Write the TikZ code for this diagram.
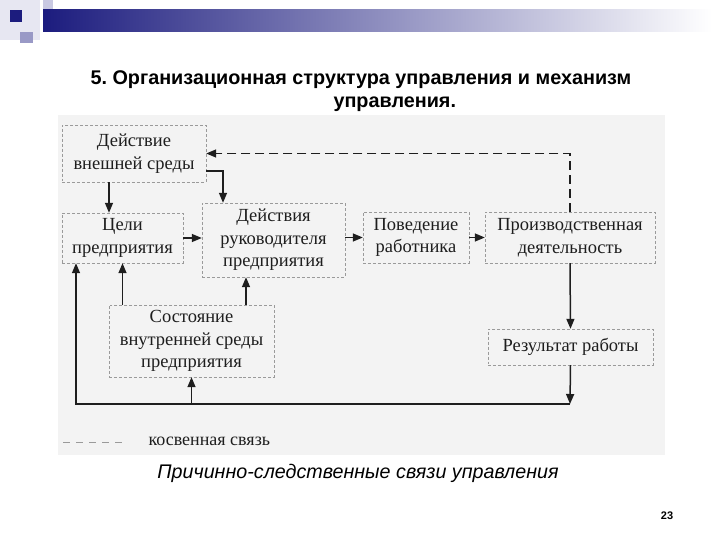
\documentclass[tikz,border=0pt]{standalone}
\usepackage{fontspec}
\setmainfont{Liberation Serif}
\newfontfamily\headfont{Liberation Sans}
\usetikzlibrary{arrows.meta,positioning,calc}
\definecolor{navy}{HTML}{1C1C7E}
\definecolor{lilac}{HTML}{C9C9E2}
\definecolor{dusk}{HTML}{9999C6}
\definecolor{scan}{HTML}{F3F3F3}
\definecolor{frame}{HTML}{9A9A9A}
\definecolor{ink}{HTML}{1E1E1E}

\begin{document}
\begin{tikzpicture}[x=1bp, y=-1bp,
  block/.style={draw=frame, densely dashed, fill=scan, inner sep=0pt, align=center, text=ink, font=\fontsize{18.5bp}{22.5bp}\selectfont},
  arr/.style={draw=ink, line width=1.5bp, -{Triangle[length=10bp,width=8bp]}},
  hint/.style={arr, dash pattern=on 9bp off 5bp},
  heading/.style={anchor=base west, font=\headfont\bfseries\fontsize{19.8bp}{23bp}\selectfont}
]
  \useasboundingbox (0,0) rectangle (720,540);
  \fill[white] (0,0) rectangle (720,540);
  \fill[lilac!45] (0,0) rectangle (40,40);
  \fill[lilac] (43,0) rectangle (53,20);
  \shade[left color=navy, middle color=navy!45, right color=white] (43,10) rectangle (712,32);
  \fill[navy] (10,10) rectangle (22,22);
  \fill[dusk] (20,32) rectangle (33,43);

  \node[heading] (title) at (87,85) {5.\ Организационная структура управления и механизм};
  \node[heading] (title2) at (330,108) {управления.};

  \fill[scan] (58,115) rectangle (665,455);

  \node[block, minimum width=144bp, minimum height=57bp] (env) at (134,153.5) {Действие\\внешней среды};
  \node[block, minimum width=121bp, minimum height=50bp] (goals) at (122.5,238) {Цели\\предприятия};
  \node[block, minimum width=143bp, minimum height=74bp] (mgr) at (273.5,240) {Действия\\руководителя\\предприятия};
  \node[block, minimum width=106bp, minimum height=51bp] (staff) at (416,237.5) {Поведение\\работника};
  \node[block, minimum width=170bp, minimum height=51bp] (prod) at (570,237.5) {Производственная\\деятельность};
  \node[block, minimum width=165bp, minimum height=72bp] (inner) at (191.5,341) {Состояние\\внутренней среды\\предприятия};
  \node[block, minimum width=165bp, minimum height=36bp] (res) at (570.5,347) {Результат работы};
  \coordinate (fb) at (570,404);

  \draw[arr] ([xshift=-25bp]env.south) -- ([xshift=-25bp]env.south |- goals.north);
  \draw[arr] ([yshift=-17.5bp]env.east) -| ([xshift=-50.5bp]mgr.north);
  \draw[arr] (goals.east) -- (goals.east -| mgr.west);
  \draw[arr] (mgr.east |- staff.west) -- (staff.west);
  \draw[arr] (staff) -- (prod);
  \draw[hint] (prod.north) |- (env.east);
  \draw[arr] (prod.south) -- (res.north);
  \draw[arr] (res.south) -- (fb);
  \draw[arr] (fb) -| ([xshift=-46.5bp]goals.south);
  \draw[arr] (fb -| inner.south) -- (inner.south);
  \draw[arr] (inner.north -| goals.south) -- (goals.south);
  \draw[arr] ([xshift=-27.5bp]mgr.south |- inner.north) -- ([xshift=-27.5bp]mgr.south);

  \coordinate (keyA) at (63,442);
  \draw[frame, line width=1bp, dash pattern=on 7bp off 6bp] (keyA) -- ++(60,0);
  \node[anchor=west, text=ink, font=\fontsize{18bp}{22bp}\selectfont] (key) at (145,441) {косвенная связь};

  \node[anchor=base, font=\headfont\itshape\fontsize{19.7bp}{23bp}\selectfont] (caption) at (358,478) {Причинно-следственные связи управления};
  \node[font=\headfont\bfseries\fontsize{11bp}{13bp}\selectfont] (page) at (667,516) {23};
\end{tikzpicture}
\end{document}
